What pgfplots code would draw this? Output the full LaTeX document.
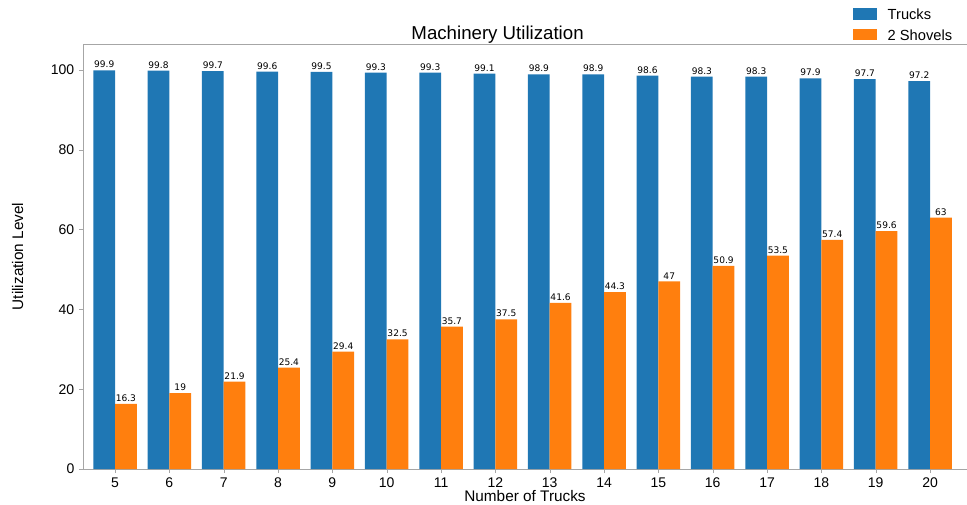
\documentclass[border=0pt]{standalone}
\usepackage{pgfplots}
\pgfplotsset{compat=1.18}
\usepackage{fontspec}
\setmainfont{Liberation Sans}
\newfontfamily\valfont{DejaVu Sans}
\definecolor{mblue}{HTML}{1F77B4}
\definecolor{morange}{HTML}{FF7F0E}
\begin{document}
\begin{tikzpicture}
\begin{axis}[
  name=ax,
  scale only axis,
  width=663pt, height=318.75pt,
  xmin=4.41, xmax=20.68,
  ymin=0, ymax=106.5,
  xtick={5,...,20},
  ytick={0,20,...,100},
  tick align=outside,
  xtick pos=bottom, ytick pos=left,
  major tick length=3pt,
  axis line style={gray!70},
  tick style={gray!70},
  ticklabel style={font=\fontsize{10.5}{12}\selectfont},
  /pgf/number format/assume math mode=true,
  ybar,
  bar width=0.4,
  xlabel={Number of Trucks},
  ylabel={Utilization Level},
  xlabel style={font=\fontsize{11.5}{12}\selectfont, at={(axis description cs:0.5,0)}, anchor=center, yshift=-20.5pt},
  ylabel style={font=\fontsize{11.5}{12}\selectfont, at={(axis description cs:0,0.5)}, anchor=center, yshift=49pt},
  title={Machinery Utilization},
  title style={font=\fontsize{14}{16}\selectfont, at={(axis description cs:0.469,1.002)}, anchor=center},
  legend style={at={(axis description cs:0.991,1.096)}, anchor=north east, draw=none, fill=none,
    font=\fontsize{11}{12}\selectfont, row sep=2pt},
  legend cell align=left,
  legend image code/.code={\draw[#1, draw=none] (0cm,-0.12cm) rectangle (0.65cm,0.18cm); \path (0.85cm,0);},
  nodes near coords,
  every node near coord/.append style={font=\valfont\fontsize{6.8}{7}\selectfont, color=black, inner sep=1.5pt},
]
\addplot[fill=mblue, draw=none, bar shift=-0.2] coordinates {
(5,99.9) (6,99.8) (7,99.7) (8,99.6) (9,99.5) (10,99.3) (11,99.3) (12,99.1)
(13,98.9) (14,98.9) (15,98.6) (16,98.3) (17,98.3) (18,97.9) (19,97.7) (20,97.2)};
\addplot[fill=morange, draw=none, bar shift=0.2] coordinates {
(5,16.3) (6,19) (7,21.9) (8,25.4) (9,29.4) (10,32.5) (11,35.7) (12,37.5)
(13,41.6) (14,44.3) (15,47) (16,50.9) (17,53.5) (18,57.4) (19,59.6) (20,63)};
\legend{Trucks, 2 Shovels}
\end{axis}
\pgfresetboundingbox
\path[use as bounding box] ([xshift=-62.25pt,yshift=-26.25pt]ax.south west) rectangle ([yshift=33pt]ax.north east);
\end{tikzpicture}
\end{document}
